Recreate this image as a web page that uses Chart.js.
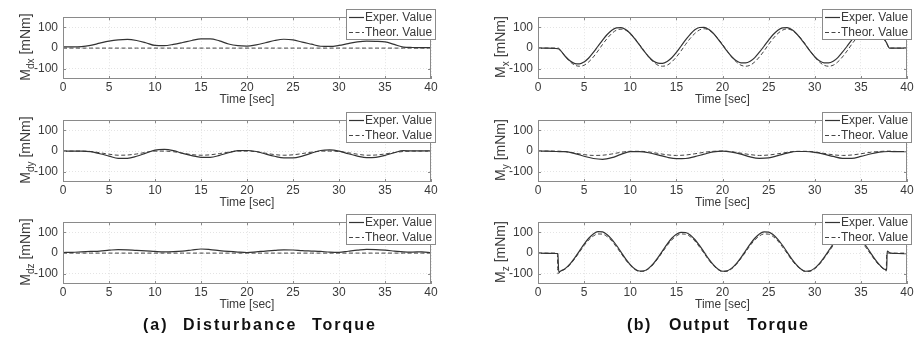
<!DOCTYPE html>
<html><head><meta charset="utf-8">
<script src="https://cdn.jsdelivr.net/npm/chart.js@4.4.1/dist/chart.umd.min.js"></script>
<style>
body{margin:0;background:#fff;width:914px;height:349px;overflow:hidden;position:relative;font-family:"Liberation Sans",Arial,sans-serif;color:#333;}
canvas{position:absolute;}
.yt{position:absolute;width:110px;height:16px;line-height:16px;text-align:center;font-size:14px;transform:rotate(-90deg);white-space:nowrap;color:#3a3a3a;}
.yt sub{font-size:10px;vertical-align:-4px;line-height:0;}
.xt{position:absolute;width:120px;text-align:center;font-size:12px;line-height:14px;white-space:nowrap;color:#3a3a3a;}
.cap{position:absolute;font-size:16px;font-weight:bold;color:#111;white-space:pre;line-height:20px;}
</style></head><body>
<script>
// ---- data ----
const xTicks = [0,5,10,15,20,25,30,35,40];
const yTicks = [-100,0,100];
const seriesLabels = ["Exper. Value","Theor. Value"];
const captions = ["(a) Disturbance Torque","(b) Output Torque"];

const time1 = [0,1,2,3,4,5,6,7,8,9,10,11,12,13,14,15,16,17,18,19,20,21,22,23,24,25,26,27,28,29,30,31,32,33,34,35,36,37,38,39,40];
const midTimes = [2.5,3,3.5,4,4.5,5,5.5,6,6.5,7,7.5,8,8.5,9,9.5,10,10.5,11,11.5,12,12.5,13,13.5,14,14.5,15,15.5,16,16.5,17,17.5,18,18.5,19,19.5,20,20.5,21,21.5,22,22.5,23,23.5,24,24.5,25,25.5,26,26.5,27,27.5,28,28.5,29,29.5,30,30.5,31,31.5,32,32.5,33,33.5,34,34.5,35,35.5,36,36.5,37,37.5];
const timeMx = [0,1,2,2.2].concat(midTimes,[37.8,38.1,39,40]);
const timeMz = [0,1,2,2.1,2.15,2.25].concat(midTimes,[37.7,37.75,37.8,37.85,38.2,39,40]);

const mdxExper = [6,6,7,13,24,34,40,42,37,26,13,12,18,27,37,45,45,35,20,12,10,16,26,37,43,40,29,19,9,8,13,22,30,34,33,30,18,5,3,2,2];
const mdxTheor = [0,0,0,0,0,0,0,0,0,0,0,0,0,0,0,0,0,0,0,0,0,0,0,0,0,0,0,0,0,0,0,0,0,0,0,0,0,0,0,0,0];
const mdyExper = [0,0,0,-3,-13,-24,-35,-35,-25,-10,5,8,2,-11,-22,-30,-30,-21,-8,2,3,-2,-14,-25,-33,-33,-24,-10,3,6,0,-13,-24,-32,-30,-21,-8,2,1,1,1];
const mdyTheor = [0,0,0,-2,-8,-15,-20,-19,-14,-6,0,0,-3,-10,-17,-20,-18,-12,-5,0,0,-3,-10,-17,-20,-18,-12,-5,0,0,-2,-8,-15,-20,-19,-14,-7,-2,0,0,0];
const mdzExper = [3,4,6,8,10,14,17,16,13,11,8,6,7,10,15,20,17,12,8,5,3,6,10,13,16,15,12,10,8,5,4,9,14,18,17,14,10,6,5,6,2];
const mdzTheor = [0,0,0,0,0,0,0,0,0,0,0,0,0,0,0,0,0,0,0,0,0,0,0,0,0,0,0,0,0,0,0,0,0,0,0,0,0,0,0,0,0];

const mxExper = [0,0,-2,-3,
 -15,-42,-63,-75,-77,-67,-48,-21,9,39,66,87,98,99,90,71,45,
 15,-15,-42,-63,-73,-74,-65,-47,-21,9,40,67,89,100,101,91,72,45,
 15,-15,-42,-62,-72,-72,-64,-46,-20,9,39,66,87,98,99,90,71,45,
 15,-15,-42,-62,-72,-72,-64,-46,-20,9,39,66,87,98,99,90,71,45,
 25,0,0,0];
const mxTheor = [0,0,0,0,
 -14,-43,-67,-83,-88,-83,-67,-43,-14,18,47,71,87,92,87,71,47,
 18,-14,-43,-67,-83,-88,-83,-67,-43,-14,18,47,71,88,94,88,71,47,
 18,-14,-43,-67,-83,-88,-83,-67,-43,-14,18,47,71,87,93,87,71,47,
 18,-14,-43,-67,-83,-88,-83,-67,-43,-14,18,47,71,87,92,87,71,47,
 22,0,0,0];
const myExper = [0,0,-2,-3,-12,-25,-36,-40,-32,-16,-3,-3,-8,-18,-30,-37,-36,-27,-15,-4,0,-5,-15,-28,-35,-33,-22,-10,-2,-2,-6,-15,-26,-35,-35,-26,-14,-5,-2,-3,-3];
const myTheor = [0,0,0,-3,-10,-17,-21,-20,-14,-6,-1,-1,-4,-11,-18,-21,-19,-13,-6,-1,0,-3,-10,-17,-21,-19,-13,-6,-1,-1,-4,-11,-18,-21,-19,-13,-6,-2,0,-2,-2];
const mzExper = [0,-1,-2,-2,-3,-92,
 -86,-73,-51,-22,11,44,72,93,104,103,89,67,38,5,-28,-56,-77,-87,
 -86,-73,-51,-22,11,44,72,92,101,100,88,66,37,5,-28,-56,-77,-88,
 -86,-73,-51,-22,11,44,72,93,103,102,89,67,38,5,-28,-56,-77,-88,
 -86,-73,-51,-22,11,44,72,93,103,102,89,67,38,5,-28,-56,-77,
 -80,-81,-82,10,0,-2,-3];
const mzTheor = [0,0,0,0,-100,-97,
 -88,-76,-55,-26,5,37,64,83,93,92,80,59,30,-1,-33,-60,-79,-89,
 -88,-76,-55,-26,5,37,64,83,93,92,80,59,30,-1,-33,-60,-79,-89,
 -88,-76,-55,-26,5,37,64,83,93,92,80,59,30,-1,-33,-60,-79,-89,
 -88,-76,-55,-26,5,37,64,83,93,92,80,59,30,-1,-33,-60,-79,
 -86,-87,0,0,0,0,0];

// ---- layout ----
const PADL = 45, PADT = 10, PADR = 12, PADB = 16;
const panels = [
 {sym:"M", sub:"dx", t:time1, e:mdxExper, th:mdxTheor, left:63, top:15, w:368, h:64},
 {sym:"M", sub:"dy", t:time1, e:mdyExper, th:mdyTheor, left:63, top:118, w:368, h:64},
 {sym:"M", sub:"dz", t:time1, e:mdzExper, th:mdzTheor, left:63, top:220, w:368, h:64},
 {sym:"M", sub:"x", t:timeMx, e:mxExper, th:mxTheor, left:538, top:15, w:369, h:64},
 {sym:"M", sub:"y", t:time1, e:myExper, th:myTheor, left:538, top:118, w:369, h:64},
 {sym:"M", sub:"z", t:timeMz, e:mzExper, th:mzTheor, left:538, top:220, w:369, h:64}
];

const FONT = '"Liberation Sans", Arial, sans-serif';

const framePlugin = {
  id:'frame',
  afterDatasetsDraw(chart){
    const {ctx, chartArea:a, scales} = chart;
    ctx.save();
    ctx.strokeStyle = '#8a8a8a'; ctx.lineWidth = 1;
    ctx.strokeRect(Math.round(a.left)+0.5, Math.round(a.top)+0.5, Math.round(a.right-a.left)-1, Math.round(a.bottom-a.top)-1);
    ctx.beginPath();
    xTicks.forEach(v=>{
      const x = Math.round(scales.x.getPixelForValue(v))+0.5;
      ctx.moveTo(x, a.bottom); ctx.lineTo(x, a.bottom-3);
      ctx.moveTo(x, a.top); ctx.lineTo(x, a.top+3);
    });
    yTicks.forEach(v=>{
      const y = Math.round(scales.y.getPixelForValue(v))+0.5;
      ctx.moveTo(a.left, y); ctx.lineTo(a.left+3, y);
      ctx.moveTo(a.right, y); ctx.lineTo(a.right-3, y);
    });
    ctx.stroke();
    ctx.restore();
  }
};
const legendPlugin = {
  id:'boxLegend',
  afterDraw(chart){
    const {ctx, chartArea:a} = chart;
    const x0 = Math.round(a.right) - 85, y0 = Math.round(a.top) - 8, w = 90, h = 31;
    ctx.save();
    ctx.fillStyle = '#fff'; ctx.fillRect(x0, y0, w, h);
    ctx.strokeStyle = '#8a8a8a'; ctx.lineWidth = 1; ctx.strokeRect(x0+0.5, y0+0.5, w-1, h-1);
    chart.data.datasets.forEach((ds,i)=>{
      const yy = y0 + 8 + i*15;
      ctx.strokeStyle = ds.borderColor; ctx.lineWidth = ds.borderWidth;
      ctx.setLineDash(ds.borderDash || []);
      ctx.beginPath(); ctx.moveTo(x0+3, yy+0.5); ctx.lineTo(x0+18, yy+0.5); ctx.stroke();
      ctx.setLineDash([]);
      ctx.fillStyle = '#3a3a3a'; ctx.font = '12px ' + FONT; ctx.textBaseline = 'middle'; ctx.textAlign = 'left';
      ctx.fillText(ds.label, x0+19, yy+1);
    });
    ctx.restore();
  }
};

panels.forEach(p=>{
  const cv = document.createElement('canvas');
  const cw = p.w + PADL + PADR, ch = p.h + PADT + PADB;
  cv.width = cw; cv.height = ch;
  cv.style.left = (p.left - PADL) + 'px'; cv.style.top = (p.top - PADT) + 'px';
  cv.style.width = cw + 'px'; cv.style.height = ch + 'px';
  document.body.appendChild(cv);

  const yt = document.createElement('div');
  yt.className = 'yt';
  yt.innerHTML = p.sym + '<sub>' + p.sub + '</sub> [mNm]';
  yt.style.left = (p.left - 38 - 55) + 'px';
  yt.style.top = (p.top + p.h/2 - 8) + 'px';
  document.body.appendChild(yt);

  const xt = document.createElement('div');
  xt.className = 'xt';
  xt.textContent = 'Time [sec]';
  xt.style.left = (p.left + p.w/2 - 60) + 'px';
  xt.style.top = (p.top + p.h + 13) + 'px';
  document.body.appendChild(xt);

  new Chart(cv, {
    type:'line',
    data:{datasets:[
      {label:seriesLabels[0], data:p.t.map((t,i)=>({x:t,y:p.e[i]})), borderColor:'#333333', borderWidth:1.2, pointRadius:0, cubicInterpolationMode:'monotone', fill:false},
      {label:seriesLabels[1], data:p.t.map((t,i)=>({x:t,y:p.th[i]})), borderColor:'#444444', borderWidth:1, borderDash:[4,2.5], pointRadius:0, cubicInterpolationMode:'monotone', fill:false}
    ]},
    options:{
      responsive:false, animation:false, devicePixelRatio:1,
      layout:{padding:{left:0, top:PADT, right:PADR, bottom:0}},
      plugins:{legend:{display:false}, tooltip:{enabled:false}},
      scales:{
        x:{type:'linear', min:0, max:40,
           afterBuildTicks:s=>{s.ticks = xTicks.map(v=>({value:v}));},
           afterFit:s=>{s.height = PADB;},
           ticks:{padding:1, color:'#3a3a3a', font:{family:FONT, size:12}, maxRotation:0, autoSkip:false},
           grid:{color:'#e4e4e4', drawTicks:false},
           border:{display:false, dash:[1,2]}},
        y:{min:-150, max:150,
           afterBuildTicks:s=>{s.ticks = yTicks.map(v=>({value:v}));},
           afterFit:s=>{s.width = PADL;},
           ticks:{padding:5, color:'#3a3a3a', font:{family:FONT, size:12}},
           grid:{color:'#e4e4e4', drawTicks:false},
           border:{display:false, dash:[1,2]}}
      }
    },
    plugins:[framePlugin, legendPlugin]
  });
});

const capPos = [{cx:260, cy:325, ls:2, ws:8}, {cx:718, cy:325, ls:1.5, ws:11}];
captions.forEach((c,i)=>{
  const d = document.createElement('div');
  d.className = 'cap';
  d.textContent = c;
  d.style.letterSpacing = capPos[i].ls + 'px';
  d.style.wordSpacing = capPos[i].ws + 'px';
  document.body.appendChild(d);
  d.style.left = (capPos[i].cx - d.offsetWidth/2) + 'px';
  d.style.top = (capPos[i].cy - 10) + 'px';
});
</script>
</body></html>
